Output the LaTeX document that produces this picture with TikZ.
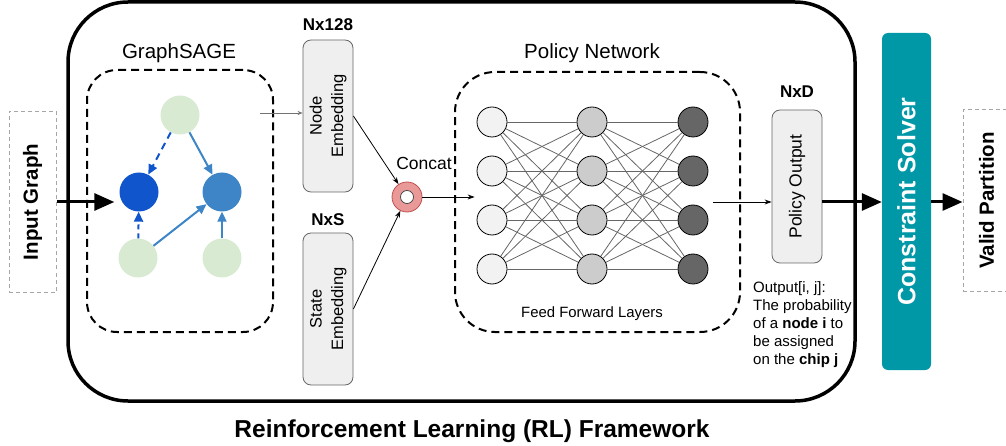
\documentclass[tikz,border=0pt]{standalone}
\usepackage{fontspec}
\setmainfont{Liberation Sans}
\usetikzlibrary{arrows.meta}
\definecolor{lgreen}{HTML}{D9EAD3}
\definecolor{dblue}{HTML}{1155CC}
\definecolor{mblue}{HTML}{3D85C6}
\definecolor{solver}{HTML}{0097A7}
\definecolor{boxgray}{HTML}{EFEFEF}
\definecolor{pinkc}{HTML}{EA9999}
\definecolor{pinkd}{HTML}{C05050}
\newcommand\vtext[1]{\rotatebox{90}{\begin{tabular}{@{}c@{}}#1\end{tabular}}}
\begin{document}
\begin{tikzpicture}[x=1pt,y=-1pt,
  gnode/.style={circle, minimum size=39pt, inner sep=0pt, draw=none},
  ffn/.style={circle, minimum size=30pt, inner sep=0pt, draw=black, line width=0.8pt},
  ffedge/.style={draw=black!60, line width=0.8pt},
  embbox/.style={draw=black!60, fill=boxgray, rounded corners=8pt, line width=0.8pt, inner sep=0pt, minimum width=50pt,
     font=\fontsize{16.5}{21.5}\selectfont},
  dashbox/.style={draw=black, dash pattern=on 8pt off 5pt, line width=2pt, inner sep=0pt},
  iobox/.style={draw=black!35, dash pattern=on 4pt off 3pt, line width=1pt, inner sep=0pt, minimum width=47pt, minimum height=181pt,
     font=\fontsize{20.5}{24}\selectfont\bfseries},
  thickarrow/.style={line width=3pt, -{Triangle[length=20pt,width=17pt]}},
  thinarrow/.style={line width=0.8pt, -{Stealth[length=7pt,width=5pt]}},
  garrow/.style={line width=2pt, -{Triangle[length=10pt,width=9pt]}},
  lbl/.style={font=\fontsize{20.5}{24}\selectfont, inner sep=0pt},
  dimlbl/.style={font=\fontsize{17}{20}\selectfont\bfseries, inner sep=0pt}
]
\useasboundingbox (0,0) rectangle (1006,446);

% outer RL framework box
\node[draw, line width=3.5pt, rounded corners=60pt, minimum width=787pt, minimum height=399pt, inner sep=0pt] (rl) at (461.5,201.5) {};
\node[font=\fontsize{24.5}{29}\selectfont\bfseries, anchor=base, inner sep=0pt] (title) at (472,437) {Reinforcement Learning (RL) Framework};

% input / output boxes
\node[iobox] (ig) at (32.5,202) {\rotatebox{90}{Input Graph}};
\node[iobox] (vp) at (986.5,200.5) {\rotatebox{90}{Valid Partition}};

% GraphSAGE
\node[dashbox, rounded corners=30pt, minimum width=186pt, minimum height=262pt] (gs) at (180,201) {};
\node[lbl] (gslbl) at (179,53) {GraphSAGE};
\node[gnode, fill=lgreen] (gt) at (180,115) {};
\node[gnode, fill=dblue] (gd) at (139,192) {};
\node[gnode, fill=mblue] (gm) at (222,192) {};
\node[gnode, fill=lgreen] (gbl) at (138,258) {};
\node[gnode, fill=lgreen] (gbr) at (222,258) {};
\draw[garrow, dblue, dash pattern=on 7pt off 5pt] (gt) -- (gd);
\draw[garrow, mblue] (gt) -- (gm);
\draw[garrow, dblue, dash pattern=on 5pt off 4pt] (gbl) -- (gd);
\draw[garrow, mblue] (gbl) -- (gm);
\draw[garrow, mblue] (gbr) -- (gm);

% input arrow
\draw[thickarrow] (ig.east) -- ([xshift=-5pt]ig.east -| gd.west);

% embeddings
\node[embbox, minimum height=152pt] (ne) at (328,116) {\vtext{Node\\Embedding}};
\node[embbox, minimum height=152pt] (se) at (328,309) {\vtext{State\\Embedding}};
\node[dimlbl] (nelbl) at (328,25) {Nx128};
\node[dimlbl] (selbl) at (328,220) {NxS};
\coordinate (gsout) at (260,113);
\draw[black!55, line width=0.8pt, -{Stealth[length=5pt,width=4pt]}] (gsout) -- (gsout -| ne.west);

% concat
\node[circle, fill=pinkc, draw=pinkd, line width=0.8pt, minimum size=30pt, inner sep=0pt] (cc) at (407,197) {};
\draw[fill=white, draw=black!75, line width=0.7pt] (cc.center) circle (6.5pt);
\node[font=\fontsize{17.5}{21}\selectfont, inner sep=0pt] (cclbl) at (424,163) {Concat};
\draw[thinarrow] (ne.east) -- (cc);
\draw[thinarrow] (se.east) -- (cc);

% policy network
\node[dashbox, rounded corners=40pt, minimum width=285pt, minimum height=260pt] (pn) at (597.5,202) {};
\node[lbl] (pnlbl) at (592,53) {Policy Network};
\foreach \r/\y in {1/122,2/171,3/220,4/269}{
  \node[ffn, fill=black!5] (a\r) at (492,\y) {};
  \node[ffn, fill=black!20] (b\r) at (592,\y) {};
  \node[ffn, fill=black!60] (c\r) at (693,\y) {};
}
\foreach \i in {1,...,4}{\foreach \j in {1,...,4}{
  \draw[ffedge] (a\i) -- (b\j);
  \draw[ffedge] (b\i) -- (c\j);
}}
\node[font=\fontsize{14.9}{18}\selectfont, inner sep=0pt] (fflbl) at (592,314) {Feed Forward Layers};
\draw[thinarrow] (cc.east) -- ([xshift=-2pt]cc.east -| a3.west);

% policy output
\node[embbox, minimum height=153pt, font=\fontsize{17.5}{21}\selectfont] (po) at (797,186.5) {\rotatebox{90}{Policy Output}};
\node[dimlbl] (polbl) at (797,92) {NxD};
\coordinate (ffout) at (713,202);
\draw[thinarrow] (ffout) -- (ffout -| po.west);
\node[font=\fontsize{15}{18}\selectfont, align=left, anchor=north west, inner sep=0pt] (otxt) at (753,281)
  {Output[i, j]:\\The probability\\of a \textbf{node i} to\\be assigned\\on the \textbf{chip j}};

% constraint solver
\node[fill=solver, rounded corners=6pt, minimum width=49pt, minimum height=337pt, inner sep=0pt,
  text=white, font=\fontsize{25}{30}\selectfont\bfseries] (cs) at (906.5,201.5) {\rotatebox{90}{Constraint Solver}};
\draw[thickarrow] (ffout -| po.east) -- (ffout -| cs.west);
\draw[thickarrow] (ffout -| cs.east) -- (ffout -| vp.west);
\end{tikzpicture}
\end{document}
